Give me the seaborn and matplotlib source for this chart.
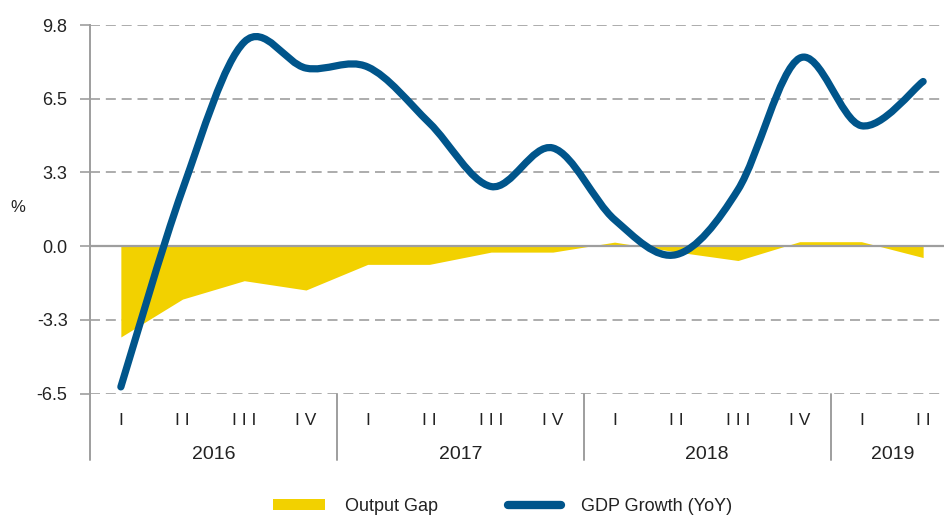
import numpy as np
import seaborn as sns
import matplotlib
matplotlib.use("Agg")
from matplotlib import pyplot as plt
from matplotlib.path import Path
from matplotlib.patches import PathPatch, Patch
from matplotlib.lines import Line2D
import matplotlib.transforms as mtransforms

# quarters 2016 Q1 .. 2019 Q2
quarters = ["I", "I I", "I I I", "I V"] * 3 + ["I", "I I"]
years = ["2016", "2017", "2018", "2019"]
quarters_per_year = [4, 4, 4, 2]
output_gap = [-4.0, -2.33, -1.52, -1.93, -0.80, -0.80, -0.26, -0.26,
              0.18, -0.25, -0.63, 0.20, 0.20, -0.50]
gdp_growth = [-6.2, 2.5, 9.0, 7.85, 7.9, 5.43, 2.63, 4.33,
              1.17, -0.37, 2.49, 8.29, 5.31, 7.26]
yticks = [-6.5, -3.25, 0.0, 3.25, 6.5, 9.75]
ytick_labels = ["-6.5", "-3.3", "0.0", "3.3", "6.5", "9.8"]

YELLOW = "#F2D100"
BLUE = "#00558B"
GRAY = "#9E9E9E"
TXT = "#222222"

sns.set_theme(style="white")
plt.rcParams['font.family'] = ['Liberation Sans', 'DejaVu Sans']


def smooth_path(xs, ys):
    # excel-like smoothed line: cubic bezier through each point
    n = len(xs)
    verts = [(xs[0], ys[0])]
    codes = [Path.MOVETO]
    for i in range(n - 1):
        a = max(i - 1, 0)
        b = min(i + 2, n - 1)
        c1 = (xs[i] + (xs[i + 1] - xs[a]) / 6, ys[i] + (ys[i + 1] - ys[a]) / 6)
        c2 = (xs[i + 1] - (xs[b] - xs[i]) / 6, ys[i + 1] - (ys[b] - ys[i]) / 6)
        verts += [c1, c2, (xs[i + 1], ys[i + 1])]
        codes += [Path.CURVE4] * 3
    return Path(verts, codes)


fig = plt.figure(figsize=(9.44, 5.15), dpi=100)
# plot area runs a bit past the right edge (chart is cropped there)
ax = fig.add_axes([90 / 944, 1 - 393.7 / 515, 864 / 944, 368.7 / 515])

x = np.arange(len(output_gap))
ax.fill_between(x, output_gap, 0, color=YELLOW, linewidth=0, zorder=2)
ax.axhline(0, color=GRAY, lw=1.6, zorder=3)
line = PathPatch(smooth_path(x, gdp_growth), facecolor="none", edgecolor=BLUE,
                 lw=5.2, capstyle="round", joinstyle="round", zorder=4, clip_on=False)
ax.add_patch(line)

ax.set_xlim(-0.5, len(x) - 0.5)
ax.set_ylim(-6.5, 9.75)
ax.set_yticks(yticks)
ax.set_yticklabels(ytick_labels, fontsize=13, color=TXT)
ax.set_xticks([])
for yv in yticks:
    if yv != 0:
        ax.axhline(yv, color=GRAY, lw=1.2, ls=(0, (6, 3.5)), zorder=1)
ax.tick_params(axis="y", length=7.2, width=1.2, color=GRAY, pad=9, left=True)

for s in ["top", "right", "bottom"]:
    ax.spines[s].set_visible(False)
ax.spines["left"].set_color(GRAY)
ax.spines["left"].set_linewidth(1.4)

# category axis below the plot
trans = mtransforms.blended_transform_factory(ax.transData, ax.transAxes)
depth = -(460 - 393.7) / 368.7
ax.plot([-0.5, -0.5], [0, depth], color=GRAY, lw=1.4, transform=trans, clip_on=False)
edges = np.cumsum([0] + quarters_per_year) - 0.5
for sep in edges[1:-1]:
    ax.plot([sep, sep], [0, depth], color=GRAY, lw=1.4, transform=trans, clip_on=False)
for i, q in enumerate(quarters):
    ax.text(i, -0.074, q, transform=trans, ha="center", va="center",
            fontsize=12.5, color=TXT)
for k, yr in enumerate(years):
    ax.text((edges[k] + edges[k + 1]) / 2, -0.164, yr, transform=trans,
            ha="center", va="center", fontsize=14, color=TXT)

fig.text(18 / 944, 1 - 208 / 515, "%", ha="center", va="center", fontsize=12, color=TXT)

handles = [Patch(facecolor=YELLOW, edgecolor="none"),
           Line2D([0], [0], color=BLUE, lw=6, solid_capstyle="round")]
fig.legend(handles, ["Output Gap", "GDP Growth (YoY)"], loc="center",
           bbox_to_anchor=(0.532, 0.017), ncol=2, frameon=False, fontsize=13,
           handlelength=2.9, handleheight=0.6, handletextpad=1.1,
           columnspacing=3.9, borderpad=0, labelcolor=TXT)

fig.savefig("out.png", dpi=100)
